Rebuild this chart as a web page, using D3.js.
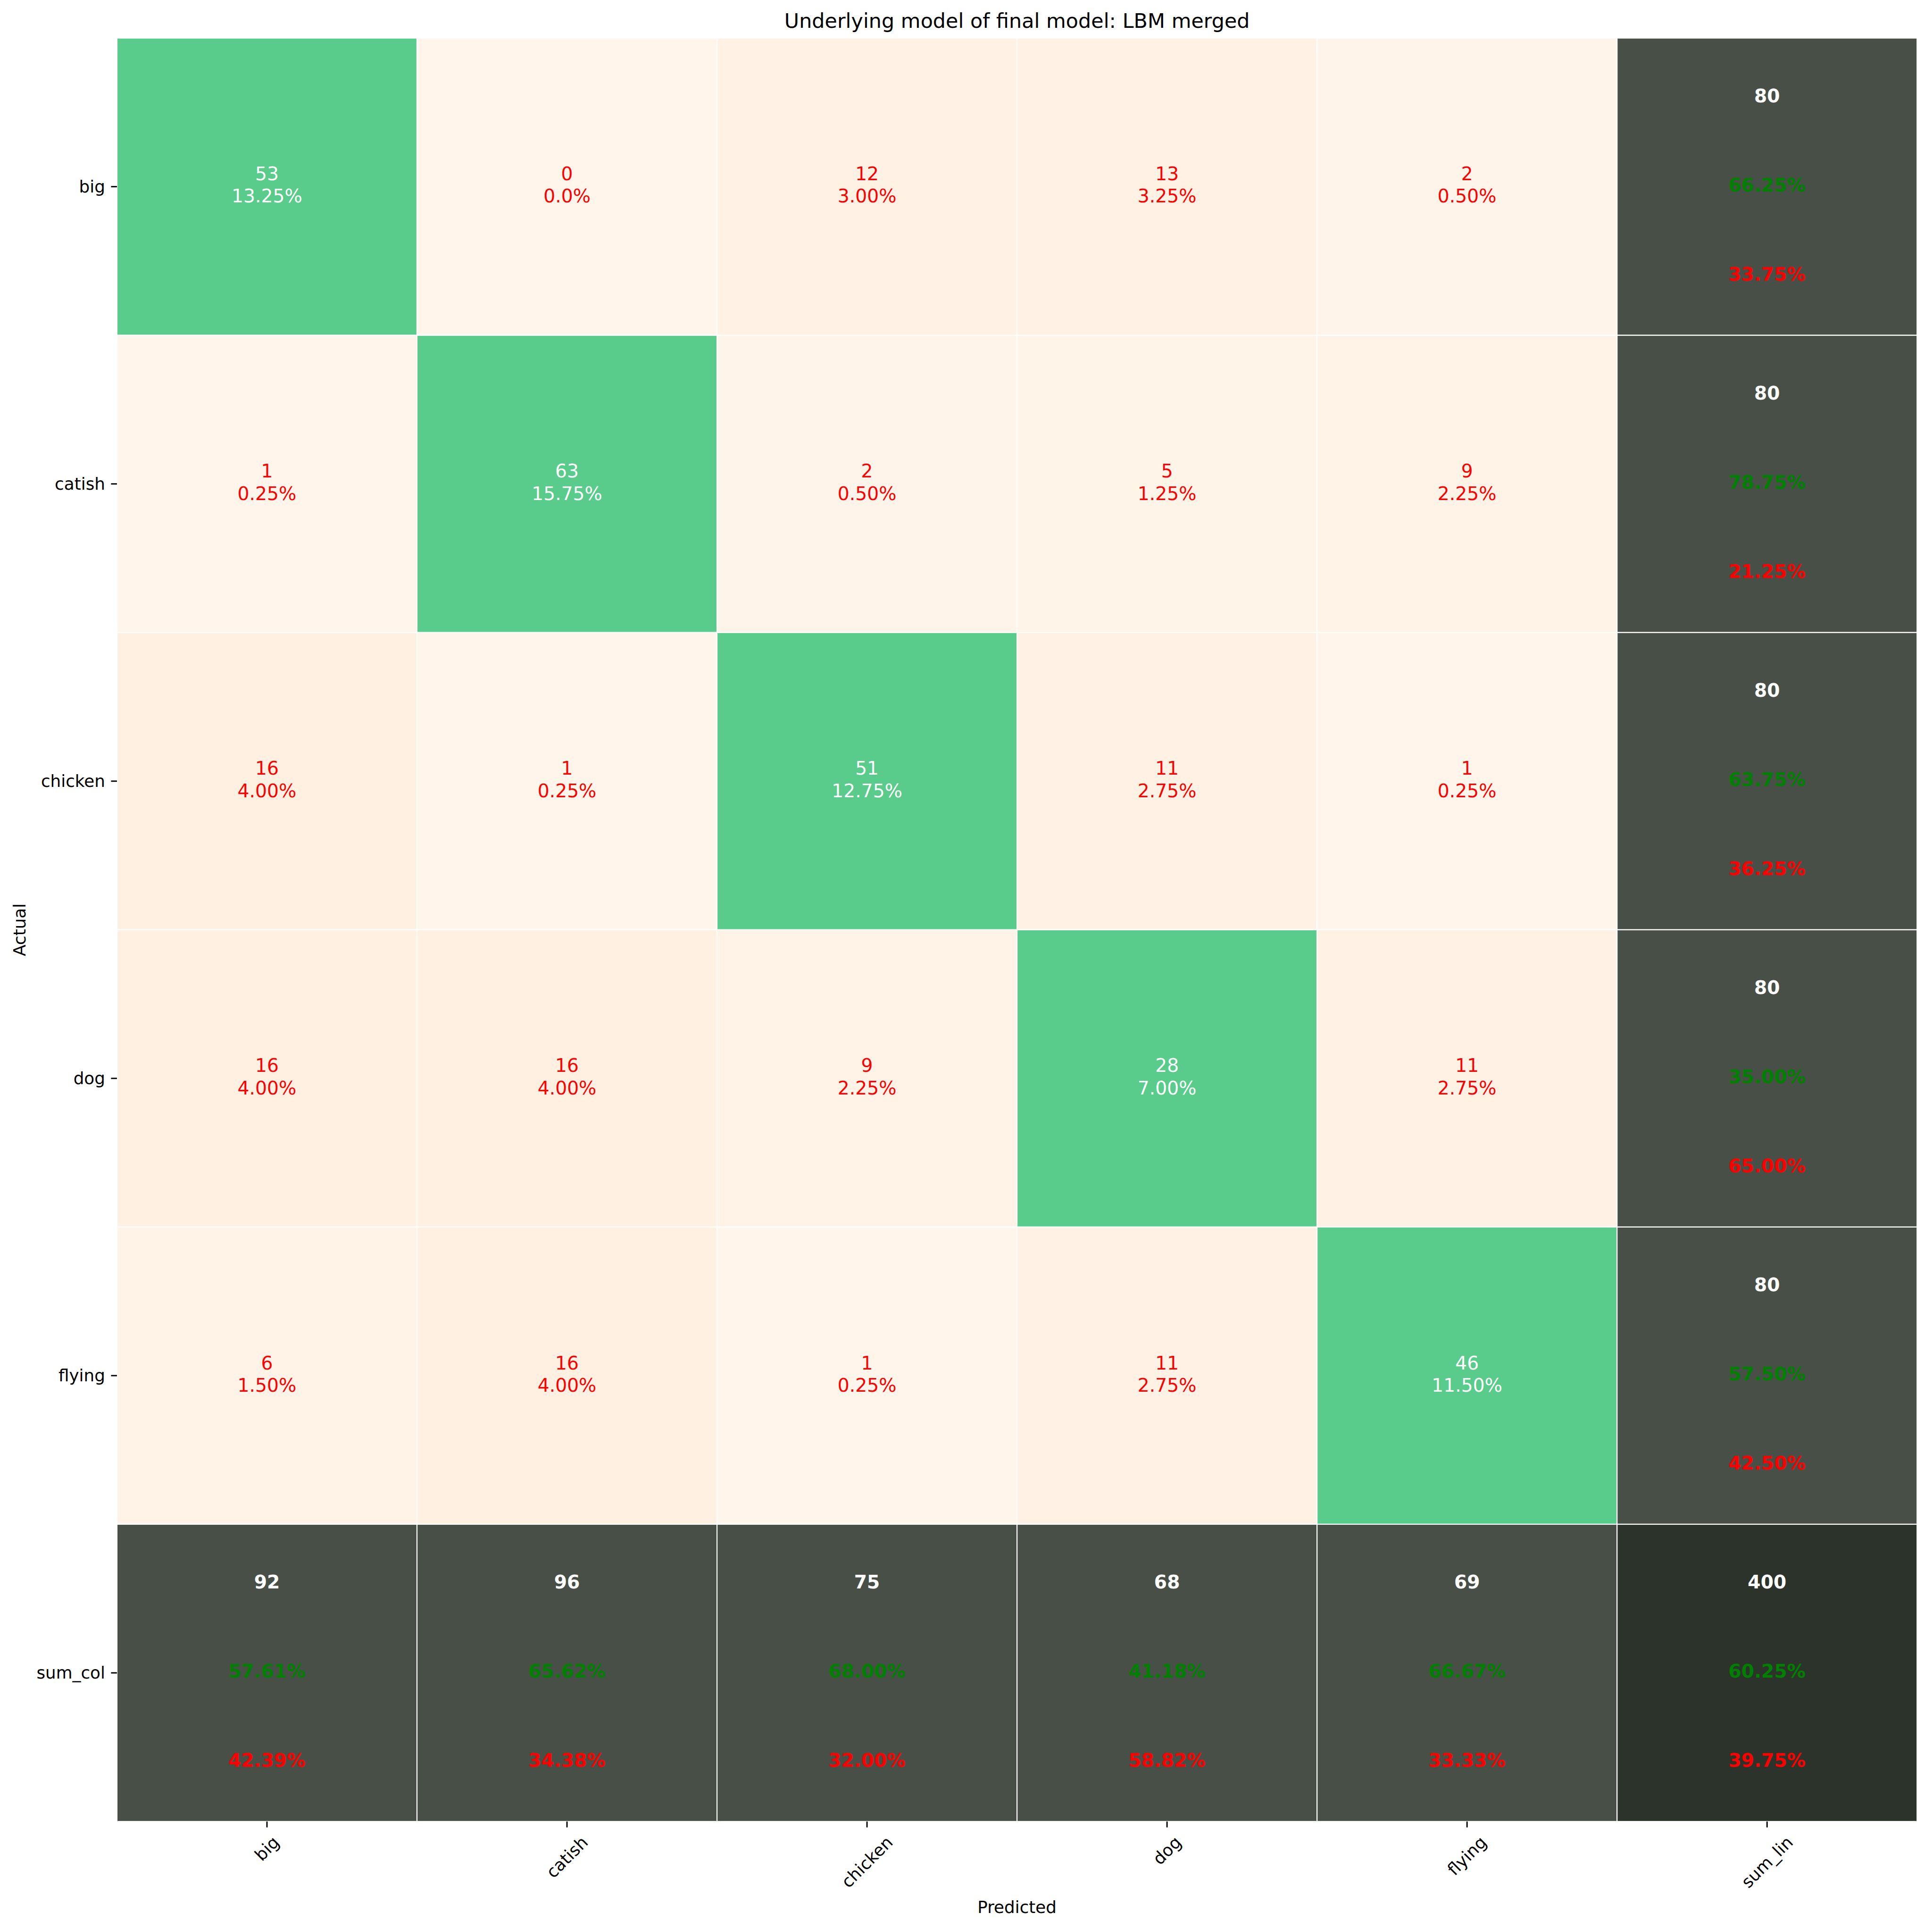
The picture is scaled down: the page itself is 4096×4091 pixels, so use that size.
<!DOCTYPE html>
<html>
<head>
<meta charset="utf-8">
<script src="https://cdn.jsdelivr.net/npm/d3@7"></script>
<style>
  html, body { margin: 0; padding: 0; background: #ffffff; }
  svg { display: block; }
  text { font-family: "DejaVu Sans", sans-serif; }
</style>
</head>
<body>
<svg id="chart" width="4096" height="4091"></svg>
<script>
// ---------------- data ----------------
const title = "Underlying model of final model: LBM merged";
const classes = ["big", "catish", "chicken", "dog", "flying"];
const xTickLabels = ["big", "catish", "chicken", "dog", "flying", "sum_lin"];
const yTickLabels = ["big", "catish", "chicken", "dog", "flying", "sum_col"];
// rows = actual, columns = predicted
const rowBig     = [53, 0, 12, 13, 2];
const rowCatish  = [1, 63, 2, 5, 9];
const rowChicken = [16, 1, 51, 11, 1];
const rowDog     = [16, 16, 9, 28, 11];
const rowFlying  = [6, 16, 1, 11, 46];
const matrix = [rowBig, rowCatish, rowChicken, rowDog, rowFlying];
// row summaries (sum_lin column)
const rowTotals   = [80, 80, 80, 80, 80];
const rowCorrect  = ["66.25%", "78.75%", "63.75%", "35.00%", "57.50%"];
const rowWrong    = ["33.75%", "21.25%", "36.25%", "65.00%", "42.50%"];
// column summaries (sum_col row)
const colTotals   = [92, 96, 75, 68, 69];
const colCorrect  = ["57.61%", "65.62%", "68.00%", "41.18%", "66.67%"];
const colWrong    = ["42.39%", "34.38%", "32.00%", "58.82%", "33.33%"];
// grand total
const grandTotal = 400;
const grandCorrect = "60.25%";
const grandWrong = "39.75%";

// ---------------- layout ----------------
const S = 0.858;
const plotLeft = 289 * S, plotRight = 4737 * S, plotTop = 94 * S, plotBottom = 4500 * S;
const cellFont = 45.8 * S;
const tickFont = 41.67 * S;
const titleFont = 50 * S;
const tickLen = 14.6 * S, tickPad = 14.6 * S, tickW = 3.33 * S;

const svg = d3.select("#chart");
svg.append("rect").attr("width", 4096).attr("height", 4091).attr("fill", "#ffffff");

const x = d3.scaleBand().domain(xTickLabels).range([plotLeft, plotRight]).padding(0);
const y = d3.scaleBand().domain(yTickLabels).range([plotTop, plotBottom]).padding(0);

// matplotlib "Oranges" colormap, vmin 0, vmax = grand total
const orangeStops = ["#fff5eb", "#fee6ce", "#fdd0a2", "#fdae6b", "#fd8d3c", "#f16913", "#d94801", "#a63603", "#7f2704"];
const oranges = d3.scaleLinear()
  .domain(d3.range(orangeStops.length).map(i => i / (orangeStops.length - 1) * grandTotal))
  .range(orangeStops)
  .clamp(true);

const diagColor = "rgb(89,204,140)";
const sumColor = "rgb(72,79,71)";
const totalColor = "rgb(44,51,43)";

// build cells
const cells = [];
for (let r = 0; r < 6; r++) {
  for (let c = 0; c < 6; c++) {
    let fill, kind;
    if (r < 5 && c < 5) {
      const v = matrix[r][c];
      kind = r === c ? "diag" : "off";
      fill = r === c ? diagColor : oranges(v);
      cells.push({ r, c, fill, kind, v });
    } else if (r === 5 && c === 5) {
      cells.push({ r, c, fill: totalColor, kind: "sum", n: grandTotal, good: grandCorrect, bad: grandWrong });
    } else if (c === 5) {
      cells.push({ r, c, fill: sumColor, kind: "sum", n: rowTotals[r], good: rowCorrect[r], bad: rowWrong[r] });
    } else {
      cells.push({ r, c, fill: sumColor, kind: "sum", n: colTotals[c], good: colCorrect[c], bad: colWrong[c] });
    }
  }
}

const gCells = svg.append("g");
gCells.selectAll("rect").data(cells).enter().append("rect")
  .attr("x", d => x(xTickLabels[d.c]))
  .attr("y", d => y(yTickLabels[d.r]))
  .attr("width", x.bandwidth())
  .attr("height", y.bandwidth())
  .attr("fill", d => d.fill)
  .attr("stroke", "#ffffff")
  .attr("stroke-width", 2.2);

// cell texts
const gText = svg.append("g");
cells.forEach(d => {
  const cx = x(xTickLabels[d.c]) + x.bandwidth() / 2;
  const cy = y(yTickLabels[d.r]) + y.bandwidth() / 2;
  if (d.kind === "sum") {
    const off = 0.3 * y.bandwidth();
    const lines = [
      { t: String(d.n), col: "#ffffff", dy: -off },
      { t: d.good, col: "#008000", dy: 0 },
      { t: d.bad, col: "#ff0000", dy: off }
    ];
    lines.forEach(l => {
      gText.append("text")
        .attr("x", cx).attr("y", cy + l.dy + 0.26 * cellFont)
        .attr("text-anchor", "middle")
        .attr("font-size", cellFont)
        .attr("font-weight", "bold")
        .attr("fill", l.col)
        .text(l.t);
    });
  } else {
    const col = d.kind === "diag" ? "#ffffff" : "#ff0000";
    const pct = d.v === 0 ? "0.0%" : (d.v / grandTotal * 100).toFixed(2) + "%";
    gText.append("text")
      .attr("x", cx).attr("y", cy - 0.34 * cellFont)
      .attr("text-anchor", "middle").attr("font-size", cellFont).attr("fill", col)
      .text(String(d.v));
    gText.append("text")
      .attr("x", cx).attr("y", cy + 0.86 * cellFont)
      .attr("text-anchor", "middle").attr("font-size", cellFont).attr("fill", col)
      .text(pct);
  }
});

// y axis
const yAxis = svg.append("g")
  .attr("transform", `translate(${plotLeft},0)`)
  .call(d3.axisLeft(y).tickSize(tickLen).tickPadding(tickPad));
yAxis.select(".domain").remove();
yAxis.selectAll(".tick line").attr("stroke", "#000").attr("stroke-width", tickW);
yAxis.selectAll(".tick text")
  .attr("font-size", tickFont).attr("fill", "#000")
  .attr("font-family", "DejaVu Sans")
  .attr("dy", null).attr("dominant-baseline", "central");

// x axis
const xAxis = svg.append("g")
  .attr("transform", `translate(0,${plotBottom})`)
  .call(d3.axisBottom(x).tickSize(tickLen).tickPadding(tickPad));
xAxis.select(".domain").remove();
xAxis.selectAll(".tick line").attr("stroke", "#000").attr("stroke-width", tickW);
xAxis.selectAll(".tick text")
  .attr("font-size", tickFont).attr("fill", "#000")
  .attr("font-family", "DejaVu Sans")
  .attr("dy", null).attr("y", 0)
  .attr("text-anchor", "middle").attr("dominant-baseline", "central")
  .each(function () {
    const w = this.getComputedTextLength();
    const h = tickFont;
    const half = (w + h) / (2 * Math.SQRT2);
    const cy = tickLen + tickPad + half;
    d3.select(this).attr("transform", `translate(0,${cy}) rotate(-45)`);
  });

// title
svg.append("text")
  .attr("x", (plotLeft + plotRight) / 2).attr("y", 69 * S)
  .attr("text-anchor", "middle").attr("font-size", titleFont).attr("fill", "#000")
  .text(title);

// axis labels
svg.append("text")
  .attr("x", (plotLeft + plotRight) / 2).attr("y", 4726 * S)
  .attr("text-anchor", "middle").attr("font-size", tickFont).attr("fill", "#000")
  .text("Predicted");
svg.append("text")
  .attr("transform", `translate(${63 * S},${(plotTop + plotBottom) / 2}) rotate(-90)`)
  .attr("text-anchor", "middle").attr("font-size", tickFont).attr("fill", "#000")
  .text("Actual");
</script>
</body>
</html>
